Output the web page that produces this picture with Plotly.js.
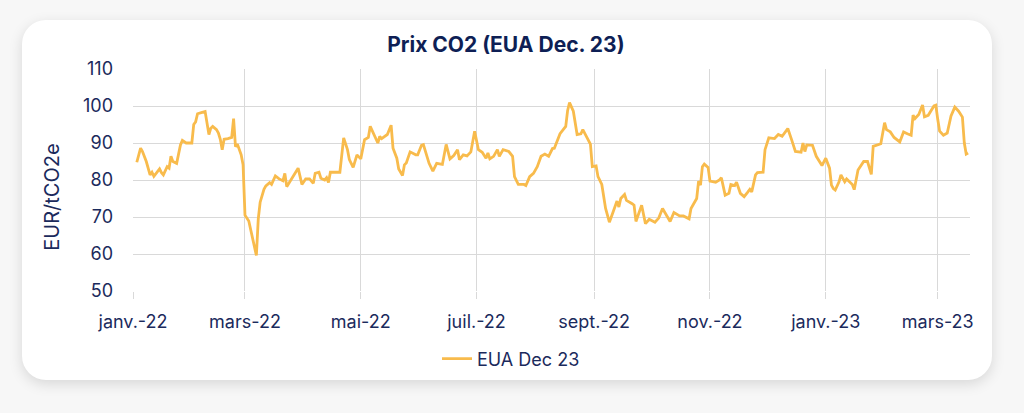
<!DOCTYPE html>
<html>
<head>
<meta charset="utf-8">
<script src="https://cdn.plot.ly/plotly-3.0.1.min.js"></script>
<style>
    html, body { margin: 0; padding: 0; background: #f7f7f7; }
    body { width: 1024px; height: 413px; position: relative; overflow: hidden; }
    /* carte blanche arrondie derrière le graphique */
    .card {
        position: absolute;
        left: 22px; top: 20px;
        width: 970px; height: 360px;
        background: #ffffff;
        border-radius: 24px;
        box-shadow: 0 4px 14px rgba(0, 0, 0, 0.13);
    }
    #chart { position: absolute; left: 0; top: 0; width: 1024px; height: 413px; }
</style>
</head>
<body>
<div class="card"></div>
<div id="chart"></div>
<script>
// Prix EUA Dec 23 (EUR/tCO2e)
const dates = [
    '2022-01-03','2022-01-05','2022-01-06','2022-01-08','2022-01-10','2022-01-11','2022-01-12','2022-01-15',
    '2022-01-16','2022-01-17','2022-01-19','2022-01-20','2022-01-21','2022-01-22','2022-01-24','2022-01-26',
    '2022-01-27','2022-01-29','2022-02-01','2022-02-02','2022-02-03','2022-02-04','2022-02-06','2022-02-08',
    '2022-02-10','2022-02-11','2022-02-12','2022-02-14','2022-02-15','2022-02-16','2022-02-17','2022-02-18',
    '2022-02-20','2022-02-22','2022-02-23','2022-02-24','2022-02-25','2022-02-27','2022-02-28','2022-03-01',
    '2022-03-03','2022-03-07','2022-03-08','2022-03-09','2022-03-11','2022-03-12','2022-03-14','2022-03-15',
    '2022-03-17','2022-03-19','2022-03-21','2022-03-22','2022-03-23','2022-03-25','2022-03-27','2022-03-29',
    '2022-03-31','2022-04-02','2022-04-04','2022-04-06','2022-04-07','2022-04-09','2022-04-10','2022-04-12',
    '2022-04-13','2022-04-14','2022-04-15','2022-04-20','2022-04-22','2022-04-24','2022-04-25','2022-04-27',
    '2022-04-29','2022-05-01','2022-05-03','2022-05-05','2022-05-06','2022-05-08','2022-05-10','2022-05-11',
    '2022-05-12','2022-05-15','2022-05-17','2022-05-18','2022-05-20','2022-05-21','2022-05-23','2022-05-24',
    '2022-05-25','2022-05-27','2022-05-30','2022-05-31','2022-06-02','2022-06-03','2022-06-06','2022-06-08',
    '2022-06-10','2022-06-13','2022-06-15','2022-06-17','2022-06-19','2022-06-21','2022-06-22','2022-06-24',
    '2022-06-26','2022-06-28','2022-06-29','2022-06-30','2022-07-02','2022-07-04','2022-07-06','2022-07-07',
    '2022-07-08','2022-07-10','2022-07-12','2022-07-13','2022-07-15','2022-07-18','2022-07-20','2022-07-21',
    '2022-07-23','2022-07-26','2022-07-27','2022-07-29','2022-07-31','2022-08-02','2022-08-04','2022-08-06',
    '2022-08-08','2022-08-10','2022-08-11','2022-08-13','2022-08-14','2022-08-17','2022-08-18','2022-08-19',
    '2022-08-21','2022-08-23','2022-08-25','2022-08-26','2022-08-28','2022-08-30','2022-08-31','2022-09-02',
    '2022-09-03','2022-09-05','2022-09-07','2022-09-09','2022-09-11','2022-09-13','2022-09-14','2022-09-15',
    '2022-09-17','2022-09-18','2022-09-21','2022-09-22','2022-09-23','2022-09-26','2022-09-28','2022-09-30',
    '2022-10-03','2022-10-05','2022-10-07','2022-10-09','2022-10-11','2022-10-13','2022-10-16','2022-10-18',
    '2022-10-21','2022-10-22','2022-10-25','2022-10-26','2022-10-27','2022-10-28','2022-10-29','2022-10-31',
    '2022-11-01','2022-11-04','2022-11-06','2022-11-07','2022-11-09','2022-11-11','2022-11-12','2022-11-14',
    '2022-11-15','2022-11-17','2022-11-19','2022-11-21','2022-11-22','2022-11-23','2022-11-25','2022-11-26',
    '2022-11-29','2022-11-30','2022-12-02','2022-12-05','2022-12-07','2022-12-09','2022-12-12','2022-12-14',
    '2022-12-16','2022-12-19','2022-12-20','2022-12-21','2022-12-22','2022-12-25','2022-12-27','2022-12-30',
    '2023-01-01','2023-01-03','2023-01-04','2023-01-05','2023-01-06','2023-01-08','2023-01-09','2023-01-11',
    '2023-01-12','2023-01-15','2023-01-16','2023-01-18','2023-01-19','2023-01-21','2023-01-23','2023-01-25',
    '2023-01-26','2023-01-28','2023-01-30','2023-02-01','2023-02-02','2023-02-04','2023-02-06','2023-02-09',
    '2023-02-11','2023-02-13','2023-02-15','2023-02-16','2023-02-17','2023-02-19','2023-02-21','2023-02-22',
    '2023-02-24','2023-02-27','2023-02-28','2023-03-01','2023-03-02','2023-03-04','2023-03-06','2023-03-08',
    '2023-03-10','2023-03-12','2023-03-14','2023-03-15','2023-03-16','2023-03-17'
];

const prices = [
    84.8, 88.6, 87.7, 85.0, 81.4, 82.1, 81.0, 83.0,
    82.0, 81.4, 83.6, 83.2, 86.4, 85.0, 84.5, 89.5,
    90.7, 90.0, 90.0, 95.0, 95.7, 97.9, 98.2, 98.5,
    92.3, 94.0, 94.5, 93.6, 92.7, 91.0, 88.2, 91.0,
    91.2, 91.5, 96.6, 89.0, 89.7, 86.8, 84.1, 70.5,
    68.9, 59.6, 69.5, 74.0, 77.5, 78.4, 79.3, 78.8,
    81.1, 80.3, 79.8, 81.8, 78.2, 80.0, 81.4, 83.2,
    78.8, 80.3, 80.3, 79.1, 81.8, 82.1, 80.5, 80.0,
    80.6, 79.3, 82.1, 82.1, 91.4, 88.2, 85.5, 83.4,
    86.8, 85.7, 90.9, 91.5, 94.5, 92.3, 90.0, 91.8,
    91.2, 92.3, 94.8, 88.6, 85.9, 83.0, 81.2, 84.1,
    84.6, 87.6, 86.8, 86.8, 89.4, 89.6, 84.5, 82.4,
    84.5, 84.2, 89.6, 85.7, 86.6, 88.2, 85.5, 86.8,
    86.5, 87.6, 90.9, 93.2, 88.2, 87.5, 85.9, 87.3,
    85.7, 86.4, 88.2, 86.4, 88.2, 87.7, 86.4, 80.9,
    78.8, 78.8, 78.5, 80.9, 81.8, 83.6, 86.4, 87.0,
    86.4, 88.5, 88.6, 90.9, 92.5, 94.5, 98.8, 100.9,
    98.6, 92.3, 92.5, 93.6, 91.8, 89.7, 83.6, 83.8,
    80.9, 78.8, 72.3, 68.6, 71.4, 74.3, 72.7, 75.0,
    76.1, 74.5, 73.6, 73.2, 68.8, 73.2, 68.2, 69.4,
    68.6, 69.7, 72.3, 70.5, 68.8, 71.2, 70.3, 70.3,
    69.5, 72.3, 75.0, 79.7, 78.6, 83.6, 84.3, 83.4,
    79.7, 79.4, 80.0, 80.6, 75.9, 76.4, 78.8, 78.5,
    79.4, 76.4, 75.5, 76.8, 77.5, 76.8, 81.4, 82.0,
    82.1, 88.2, 91.4, 91.2, 92.3, 91.8, 93.9, 90.9,
    87.7, 87.5, 90.0, 87.7, 89.5, 89.4, 86.4, 83.9,
    85.9, 83.2, 78.6, 77.7, 77.3, 79.5, 81.4, 79.5,
    80.3, 78.8, 77.4, 82.7, 83.6, 85.0, 85.0, 81.5,
    89.1, 89.5, 89.8, 95.5, 93.6, 93.0, 91.5, 90.3,
    93.0, 92.5, 92.1, 97.5, 96.6, 97.7, 100.3, 97.1,
    97.5, 100.0, 100.2, 96.4, 93.2, 92.1, 92.7, 97.3,
    99.7, 98.6, 97.0, 90.0, 87.0, 87.3
];

// Graduations de l'axe des dates (tous les deux mois)
const tickDates = ['2022-01-01','2022-03-01','2022-05-01','2022-07-01','2022-09-01','2022-11-01','2023-01-01','2023-03-01'];
const tickLabels = ['janv.-22','mars-22','mai-22','juil.-22','sept.-22','nov.-22','janv.-23','mars-23'];
const yTicks = [50, 60, 70, 80, 90, 100, 110];

const navy = '#1b2a5c';
const gridColor = '#d9d9d9';
const fontFamily = 'Inter, "Open Sans", sans-serif';

const data = [{
    type: 'scatter',
    mode: 'lines',
    name: 'EUA Dec 23',
    x: dates,
    y: prices,
    line: { color: '#f8bb4c', width: 2.8 },
    hovertemplate: '%{x}<br>%{y:.1f} EUR/tCO2e<extra></extra>'
}];

const layout = {
    width: 1024,
    height: 413,
    margin: { l: 133, r: 54, t: 69, b: 122, pad: 0 },
    paper_bgcolor: 'rgba(0,0,0,0)',
    plot_bgcolor: 'rgba(0,0,0,0)',
    font: { family: fontFamily, size: 17, color: navy },
    title: {
        text: '<b>Prix CO2 (EUA Dec. 23)</b>',
        font: { family: fontFamily, size: 21, color: '#0e1f55' },
        x: 0.494,
        xanchor: 'center',
        yref: 'container',
        y: 1 - 45 / 413,
        yanchor: 'middle'
    },
    xaxis: {
        type: 'date',
        range: ['2022-01-01', '2023-03-18'],
        tickvals: tickDates,
        ticktext: tickLabels,
        ticks: 'outside',
        ticklen: 7,
        tickcolor: gridColor,
        tickwidth: 1,
        showgrid: true,
        gridcolor: gridColor,
        gridwidth: 1,
        showline: false,
        zeroline: false,
        tickfont: { size: 18, color: navy },
        ticklabelstandoff: 7,
        automargin: false
    },
    yaxis: {
        range: [50, 110],
        tickvals: yTicks,
        showgrid: true,
        gridcolor: gridColor,
        gridwidth: 1,
        zeroline: false,
        showline: false,
        ticks: '',
        tickfont: { size: 18, color: navy },
        ticklabelstandoff: 19,
        automargin: false
    },
    // titre de l'axe Y placé en annotation (légèrement sous le centre, comme l'original)
    annotations: [{
        text: 'EUR/tCO2e',
        textangle: -90,
        xref: 'paper',
        yref: 'paper',
        x: 0,
        xshift: -81,
        y: (291.3 - 198) / 222,
        xanchor: 'center',
        yanchor: 'middle',
        showarrow: false,
        font: { family: fontFamily, size: 20, color: navy }
    }],
    showlegend: true,
    legend: {
        orientation: 'h',
        xref: 'container',
        x: 511 / 1024,
        xanchor: 'center',
        yref: 'container',
        y: 1 - 359 / 413,
        yanchor: 'middle',
        font: { size: 18, color: navy },
        bgcolor: 'rgba(0,0,0,0)'
    }
};

const config = { responsive: false, displayModeBar: false, staticPlot: true };

Plotly.newPlot('chart', data, layout, config);
</script>
</body>
</html>
